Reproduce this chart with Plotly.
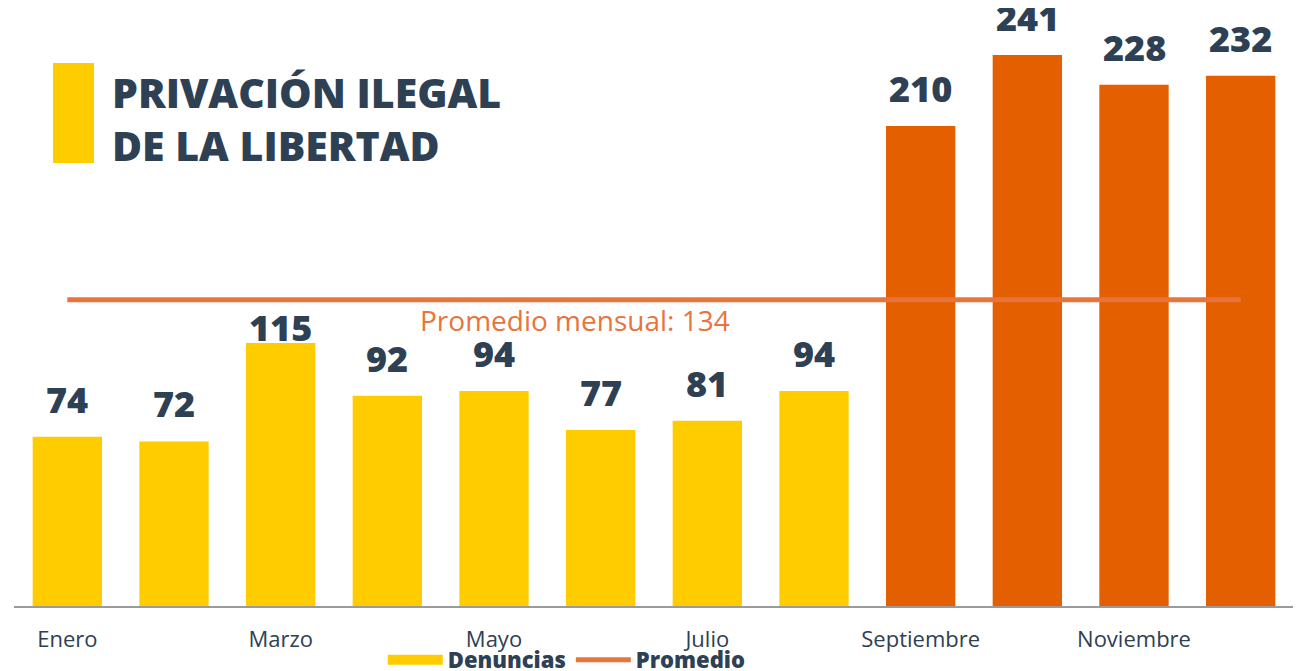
import plotly.graph_objects as go

months = ["Enero", "Febrero", "Marzo", "Abril", "Mayo", "Junio", "Julio",
          "Agosto", "Septiembre", "Octubre", "Noviembre", "Diciembre"]
denuncias = [74, 72, 115, 92, 94, 77, 81, 94, 210, 241, 228, 232]
promedio = 134
shown_ticks = ["Enero", "Marzo", "Mayo", "Julio", "Septiembre", "Noviembre"]

YELLOW = "#FFCC00"
ORANGE = "#E35F00"
LINE = "#E8743B"
DARK = "#2E4053"

bar_colors = [YELLOW] * 8 + [ORANGE] * 4
# label placement tweak (style only): Marzo's label sits lower, clear of the average line
label_nudge = {"Marzo": -22}

# page body has an 8px margin -> design in screenshot pixels, offset by 8
OFF = 8
W, H = 1301, 671
L, T = 14 - OFF, 10 - OFF
B = H - (606 - OFF)
R = W - (1294.5 - OFF)
PW, PH = W - L - R, H - T - B


def px(xs):
    return (xs - 14) / PW


def py(ys):
    return (606 - ys) / PH


fig = go.Figure()
fig.add_trace(go.Bar(
    x=months, y=denuncias, name="Denuncias", showlegend=False,
    marker=dict(color=bar_colors, line=dict(width=0)),
))
# legend-only entry with a wide swatch
fig.add_trace(go.Scatter(
    x=[None], y=[None], mode="lines", name="Denuncias",
    line=dict(color=YELLOW, width=14),
))
fig.add_trace(go.Scatter(
    x=[months[0], months[-1]], y=[promedio, promedio], mode="lines",
    name="Promedio", line=dict(color=LINE, width=5),
))

for m, v in zip(months, denuncias):
    fig.add_annotation(x=m, y=v, text=str(v), showarrow=False,
                       yanchor="bottom", yshift=11 + label_nudge.get(m, 0),
                       font=dict(family="Open Sans", size=36, color=DARK, weight=800))

fig.add_annotation(x=px(575), xref="paper", y=promedio, yref="y",
                   text=f"Promedio mensual: {promedio}", showarrow=False,
                   yshift=-20, font=dict(family="Open Sans", size=28, color=LINE))

fig.add_shape(type="rect", xref="paper", yref="paper",
              x0=px(53), x1=px(94), y0=py(163), y1=py(63),
              fillcolor=YELLOW, line=dict(width=0))
fig.add_annotation(x=px(110), xref="paper", xanchor="left",
                   y=py(119), yref="paper", yanchor="middle",
                   text="PRIVACIÓN ILEGAL<br>DE LA LIBERTAD", align="left",
                   showarrow=False,
                   font=dict(family="Open Sans", size=41, color=DARK, weight=800))

fig.update_layout(
    width=W, height=H,
    margin=dict(l=L, r=R, t=T, b=B, autoexpand=False),
    plot_bgcolor="white", paper_bgcolor="white",
    bargap=0.35,
    showlegend=True,
    legend=dict(orientation="h", x=px(567), xanchor="center",
                yref="container", y=1 - (639 - OFF) / H, yanchor="top",
                bgcolor="rgba(0,0,0,0)",
                font=dict(family="Open Sans", size=22, color=DARK, weight=800),
                itemwidth=55, tracegroupgap=0),
    xaxis=dict(tickmode="array", tickvals=shown_ticks, ticktext=shown_ticks,
               tickfont=dict(family="Open Sans", size=22, color=DARK),
               showline=True, linecolor="#9A9A9A", linewidth=2, ticks="",
               ticklabelstandoff=13, automargin=False, showgrid=False),
    yaxis=dict(range=[0, PH / 2.286], visible=False, showgrid=False),
)

fig.write_html("out.html")
